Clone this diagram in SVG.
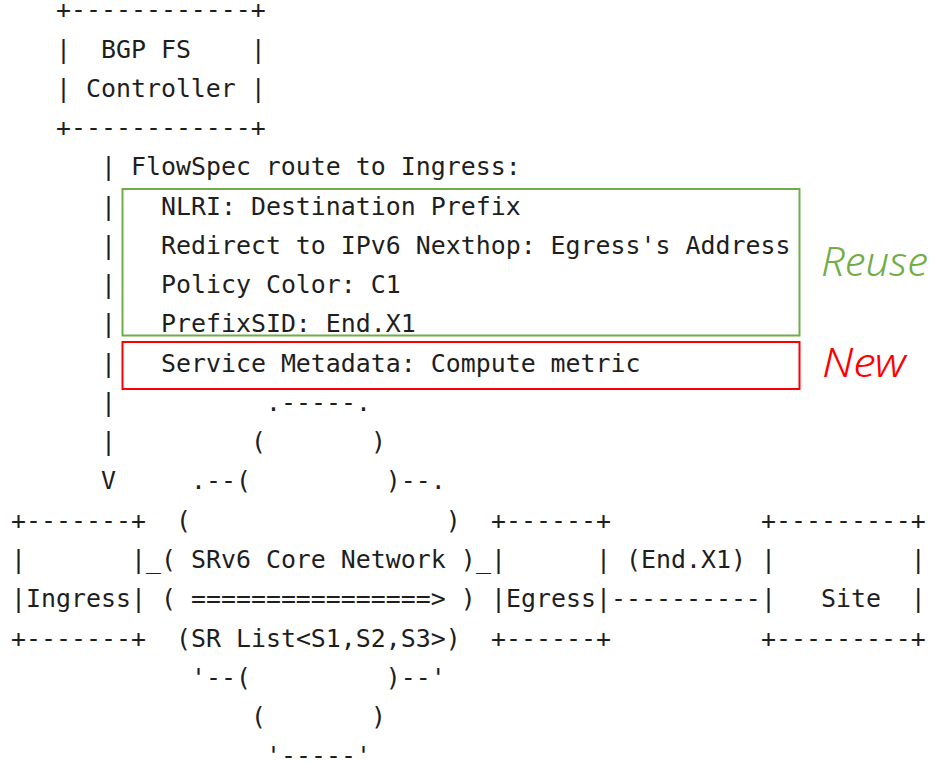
<svg xmlns="http://www.w3.org/2000/svg" width="935" height="763" viewBox="0 0 935 763" xml:space="preserve">
<style>
.t{font-family:"DejaVu Sans Mono","Liberation Mono",monospace;font-size:24.9px;fill:#1e1e1e;white-space:pre}
.lbl{font-family:"Noto Sans","Open Sans",sans-serif;font-style:italic;font-weight:300;font-size:41px}
</style>
<rect width="935" height="763" fill="#ffffff"/>
<g id="controller">
<text class="t" x="56" y="18.3">+------------+</text>
<text class="t" x="56" y="57.5">|  BGP FS    |</text>
<text class="t" x="56" y="96.8">| Controller |</text>
<text class="t" x="56" y="136">+------------+</text>
</g>
<g id="connectors">
<text class="t" x="101" y="175.3">|</text>
<text class="t" x="101" y="214.5">|</text>
<text class="t" x="101" y="253.8">|</text>
<text class="t" x="101" y="293">|</text>
<text class="t" x="101" y="332.3">|</text>
<text class="t" x="101" y="371.5">|</text>
<text class="t" x="101" y="410.8">|</text>
<text class="t" x="101" y="450">|</text>
<text class="t" x="101" y="489.3">V</text>
<text class="t" x="146" y="568">_</text>
<text class="t" x="476" y="568">_</text>
<text class="t" x="626" y="568">(End.X1)</text>
<text class="t" x="611" y="607.3">----------</text>
</g>
<g id="flowspec-route">
<text class="t" x="131" y="175.3">FlowSpec route to Ingress:</text>
<text class="t" x="161" y="214.5">NLRI: Destination Prefix</text>
<text class="t" x="161" y="253.8">Redirect to IPv6 Nexthop: Egress's Address</text>
<text class="t" x="161" y="293">Policy Color: C1</text>
<text class="t" x="161" y="332.3">PrefixSID: End.X1</text>
<text class="t" x="161" y="371.5">Service Metadata: Compute metric</text>
</g>
<g id="reuse-box">
<rect x="122.5" y="189" width="677" height="146.5" fill="none" stroke="#70AD47" stroke-width="2"/>
<text class="lbl" x="821" y="276" fill="#70AD47" textLength="107" lengthAdjust="spacingAndGlyphs">Reuse</text>
</g>
<g id="new-box">
<rect x="122.5" y="342" width="677" height="47" fill="none" stroke="#FF0000" stroke-width="2"/>
<text class="lbl" x="822" y="376.5" fill="#FF0000" textLength="84" lengthAdjust="spacingAndGlyphs">New</text>
</g>
<g id="srv6-core-network">
<text class="t" x="266" y="410.8">.-----.</text>
<text class="t" x="251" y="450">(       )</text>
<text class="t" x="191" y="489.3">.--(         )--.</text>
<text class="t" x="176" y="528.5">(                 )</text>
<text class="t" x="161" y="568">( SRv6 Core Network )</text>
<text class="t" x="161" y="607.3">( ================&gt; )</text>
<text class="t" x="176" y="646.5">(SR List&lt;S1,S2,S3&gt;)</text>
<text class="t" x="191" y="685.8">'--(         )--'</text>
<text class="t" x="251" y="725">(       )</text>
<text class="t" x="266" y="764.3">'-----'</text>
</g>
<g id="ingress">
<text class="t" x="11" y="528.5">+-------+</text>
<text class="t" x="11" y="568">|       |</text>
<text class="t" x="11" y="607.3">|Ingress|</text>
<text class="t" x="11" y="646.5">+-------+</text>
</g>
<g id="egress">
<text class="t" x="491" y="528.5">+------+</text>
<text class="t" x="491" y="568">|      |</text>
<text class="t" x="491" y="607.3">|Egress|</text>
<text class="t" x="491" y="646.5">+------+</text>
</g>
<g id="site">
<text class="t" x="761" y="528.5">+---------+</text>
<text class="t" x="761" y="568">|         |</text>
<text class="t" x="761" y="607.3">|   Site  |</text>
<text class="t" x="761" y="646.5">+---------+</text>
</g>
</svg>
